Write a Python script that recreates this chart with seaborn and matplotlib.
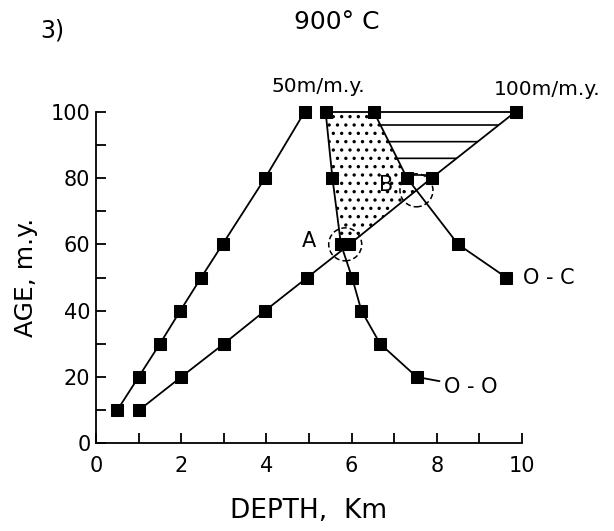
import numpy as np
import pandas as pd
import matplotlib
matplotlib.use("Agg")
import matplotlib.pyplot as plt
from matplotlib.patches import Polygon, Ellipse
import seaborn as sns

# ---- data (depth in km, age in m.y.) ----
age_50 = [10, 20, 30, 40, 50, 60, 80, 100]
depth_50 = [0.5, 1.0, 1.5, 1.98, 2.47, 2.97, 3.97, 4.9]

age_100 = [10, 20, 30, 40, 50, 60, 80, 100]
depth_100 = [1.01, 2.0, 3.0, 3.97, 4.96, 5.95, 7.88, 9.85]

age_oo = [100, 80, 60, 50, 40, 30, 20]
depth_oo = [5.39, 5.55, 5.75, 6.01, 6.23, 6.67, 7.53]

age_oc = [100, 80, 60, 50]
depth_oc = [6.52, 7.30, 8.5, 9.63]

xticks = [0, 2, 4, 6, 8, 10]
yticks = [0, 20, 40, 60, 80, 100]

sns.set_style("ticks")
plt.rcParams['font.family'] = ['DejaVu Sans']
plt.rcParams['hatch.linewidth'] = 1.2
plt.rcParams['hatch.color'] = 'black'
for k in ['text.color', 'axes.labelcolor', 'xtick.color', 'ytick.color', 'axes.edgecolor']:
    plt.rcParams[k] = 'black'

fig = plt.figure(figsize=(6.14, 5.31), dpi=100)
ax = fig.add_axes([96/614, 1-443.3/531, (522-96)/614, (443.3-111.7)/531])

def seg_intersect(p1, p2, p3, p4):
    p1, p2, p3, p4 = map(np.asarray, (p1, p2, p3, p4))
    d1 = p2 - p1
    d2 = p4 - p3
    M = np.array([d1, -d2]).T
    t, s = np.linalg.solve(M, p3 - p1)
    return p1 + t * d1

# intersection B of O-C (80->60 segment) and 100 m/m.y. (60->80 segment)
B = seg_intersect((depth_oc[1], age_oc[1]), (depth_oc[2], age_oc[2]),
                  (depth_100[5], age_100[5]), (depth_100[6], age_100[6]))
A = np.array([(depth_oo[2] + depth_100[5]) / 2, age_oo[2]])

# stippled region
stip = [(depth_oo[0], age_oo[0]), (depth_oc[0], age_oc[0]), (depth_oc[1], age_oc[1]),
        tuple(B), (depth_100[5], age_100[5]), (depth_oo[2], age_oo[2]),
        (depth_oo[1], age_oo[1])]
ax.add_patch(Polygon(stip, closed=True, facecolor='none', edgecolor='black', lw=0,
                     hatch='..', zorder=1))
# hatched region
hat = [(depth_oc[0], age_oc[0]), (depth_100[7], age_100[7]), (depth_100[6], age_100[6]),
       tuple(B), (depth_oc[1], age_oc[1])]
ax.add_patch(Polygon(hat, closed=True, facecolor='none', edgecolor='black', lw=0,
                     hatch='-', zorder=1))
# top edge between curves
ax.plot([depth_oo[0], depth_100[7]], [100, 100], color='black', lw=1.3, zorder=2,
        clip_on=False)

for d, a in [(depth_50, age_50), (depth_100, age_100), (depth_oo, age_oo), (depth_oc, age_oc)]:
    df = pd.DataFrame({'depth': d, 'age': a})
    sns.lineplot(data=df, x='depth', y='age', sort=False, estimator=None, ax=ax,
                 color='black', lw=1.3, marker='s', markersize=8.5,
                 markeredgecolor='black', zorder=3)
for ln in ax.lines:
    ln.set_clip_on(False)

# dashed circles
for c in (A, B):
    ax.add_patch(Ellipse(c, width=33/42.6, height=33/3.316, fill=False,
                         edgecolor='black', lw=1.1, linestyle=(0, (3.5, 2)), zorder=4))

ax.text(5.0, 61, 'A', fontsize=15, ha='center', va='center')
ax.text(6.82, 77.8, 'B', fontsize=15, ha='center', va='center')
ax.text(depth_oc[-1] + 0.4, age_oc[-1], 'O - C', fontsize=15, ha='left', va='center')
ax.annotate('O - O', xy=(depth_oo[-1], age_oo[-1]), xytext=(8.8, 17.0),
            fontsize=15, ha='center', va='center',
            arrowprops=dict(arrowstyle='-', color='black', lw=1.3, shrinkA=1, shrinkB=0))
ax.text(5.23, 107.5, '50m/m.y.', fontsize=14.5, ha='center', va='center')
ax.text(10.6, 106.8, '100m/m.y.', fontsize=14.5, ha='center', va='center')

ax.set_xlim(0, 10)
ax.set_ylim(0, 100)
ax.set_xticks(xticks)
ax.set_yticks(yticks)
ax.set_xticks(np.arange(1, 10, 2), minor=True)
ax.set_yticks(np.arange(10, 100, 20), minor=True)
ax.tick_params(which='both', direction='in', length=7, width=1.3, labelsize=15)
ax.tick_params(axis='x', pad=9)
ax.tick_params(axis='y', pad=4)
for s in ['left', 'bottom']:
    ax.spines[s].set_linewidth(1.3)
sns.despine(ax=ax)

ax.set_xlabel('DEPTH,  Km', fontsize=19, labelpad=16)
ax.set_ylabel('AGE, m.y.', fontsize=18, labelpad=9)

fig.text(52/614, 1-31/531, '3)', fontsize=17, ha='center', va='center')
fig.text(337/614, 1-22/531, '900° C', fontsize=18, ha='center', va='center')

fig.savefig('out.png', dpi=100)
